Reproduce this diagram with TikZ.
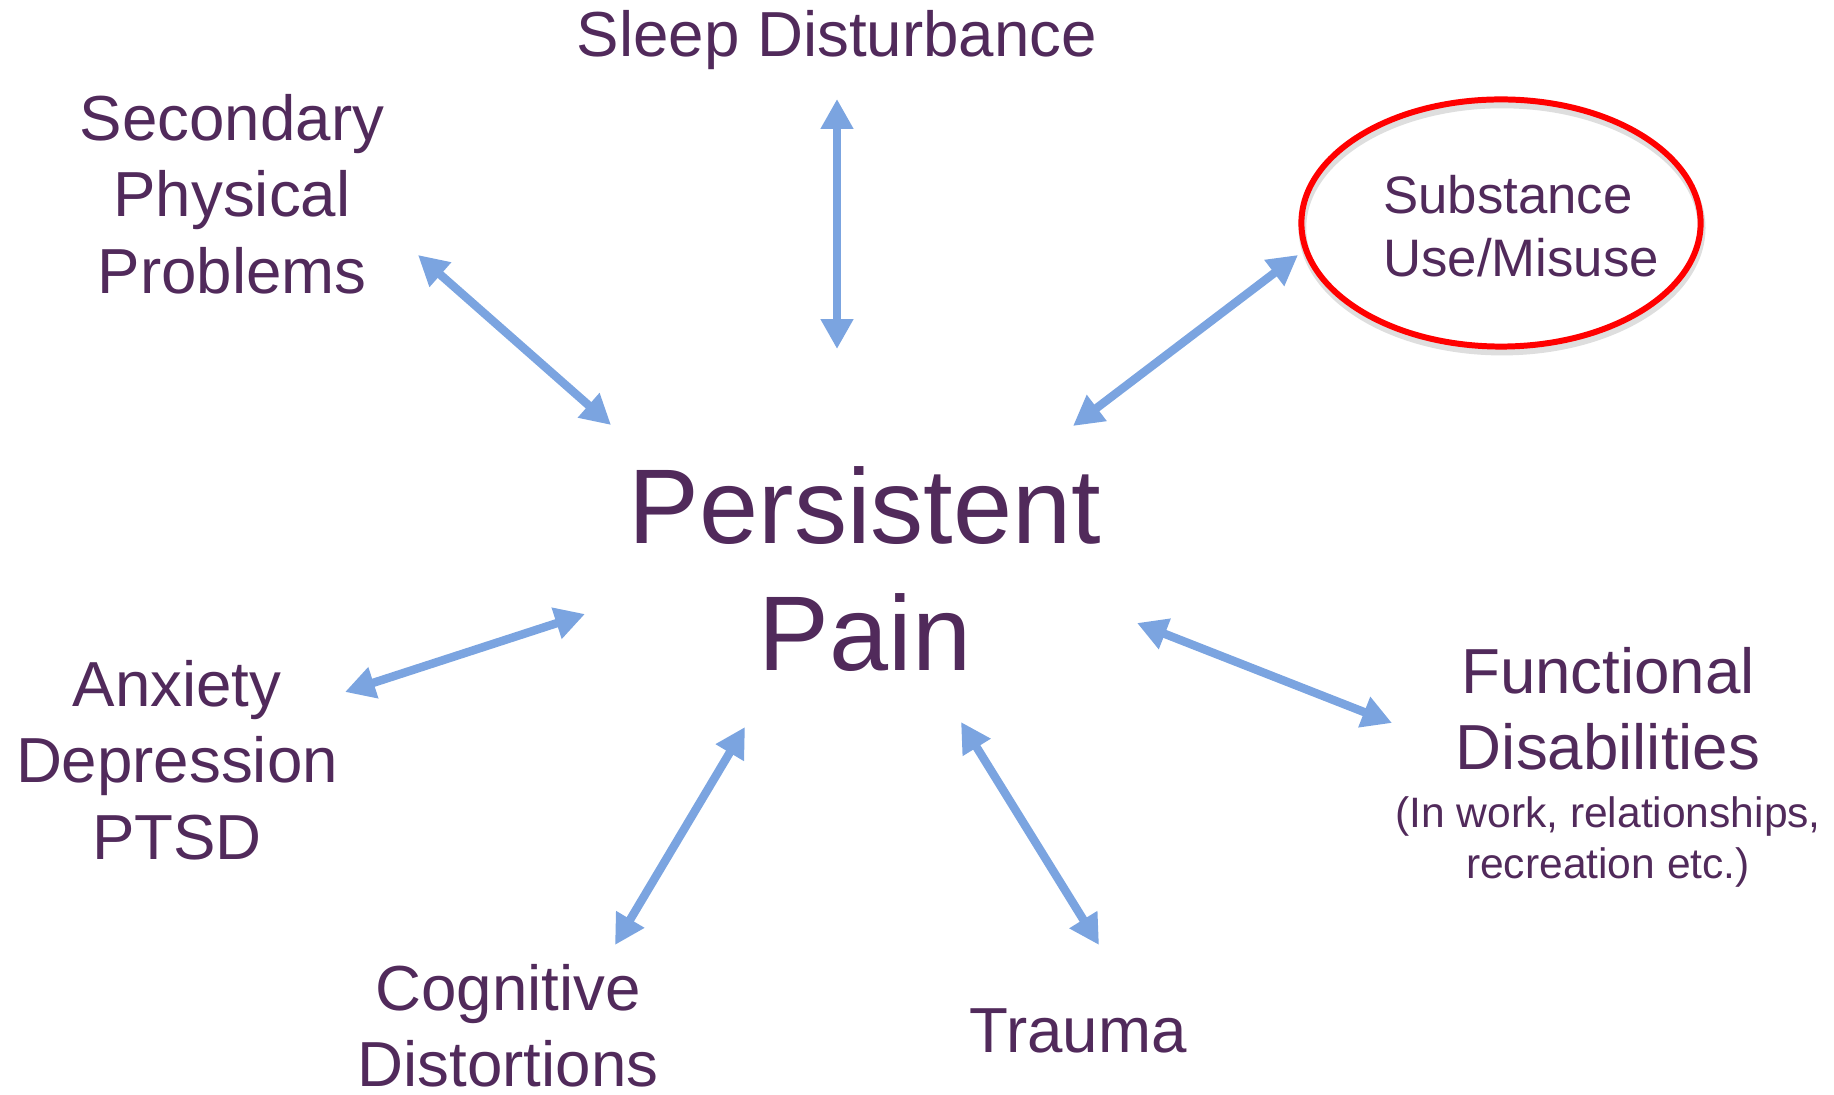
\documentclass[tikz,border=0pt]{standalone}
\usepackage{fontspec}
\setmainfont{Liberation Sans}
\usepackage{xcolor}
\definecolor{douleurPourpre}{HTML}{512A5B}
\definecolor{douleurBleu}{HTML}{7BA4E0}
\definecolor{douleurRouge}{HTML}{FF0000}
\definecolor{douleurOmbre}{HTML}{C8C8C8}
\usepackage{tikz}
\usetikzlibrary{arrows.meta, shapes.geometric}
\tikzset{
  %% ── Textes ───────────────────────────────────────────────────────────
  %% Tous les intitules sont en pourpre ; seule la taille change.
  theme/.style        = {text=douleurPourpre, align=center, inner sep=0pt,
                         font=\fontsize{18.1}{21.7}\selectfont},
  themeCentral/.style = {theme, font=\fontsize{30.2}{36.3}\selectfont},
  themePetit/.style   = {theme, align=left,
                         font=\fontsize{15}{17.9}\selectfont},
  precision/.style    = {theme, font=\fontsize{12.1}{14.65}\selectfont},
  %%
  %% ── Cadre ────────────────────────────────────────────────────────────
  %% L'ovale rouge porte une ombre legere, decalee vers le bas.
  ovaleRouge/.style   = {ellipse, draw=douleurRouge, line width=1.7pt,
                         minimum width=3.99cm, minimum height=2.47cm,
                         inner sep=0pt},
  ovaleOmbre/.style   = {ovaleRouge, draw=douleurOmbre, line width=2.2pt,
                         opacity=0.6},
  %%
  %% ── Fleches ──────────────────────────────────────────────────────────
  %% Toutes les relations vont dans les deux sens.
  fleche/.style       = {{Triangle[length=8.5pt, width=8.8pt]}-{Triangle[length=8.5pt, width=8.8pt]},
                         draw=douleurBleu, line width=2.4pt},
}

\begin{document}
\begin{tikzpicture}[x=0.01cm, y=-0.01cm]

%% Un pixel de la diapositive vaut 0,01 cm, origine en haut a gauche.
\useasboundingbox (0,0) rectangle (1834,1095);

%% Le centre.
\node[themeCentral] (douleur) at (865,569) {Persistent\\Pain};

%% Les sept themes autour.
\node[theme] (sommeil) at (837,40) {Sleep Disturbance};
\node[theme] (secondaire) at (232,194) {Secondary\\Physical\\Problems};
\node[ovaleOmbre] (ombre) at (1502,228) {};
\node[ovaleRouge] (ovale) at (1501,223) {};
\node[themePetit] (substance) at (1521,226) {Substance\\Use/Misuse};
\node[theme] (anxiete) at (177,760) {Anxiety\\Depression\\PTSD};
\node[theme] (fonction) at (1608,709) {Functional\\Disabilities};
\node[precision] (fonctionNote) at (1608,842) {(In work, relationships,\\recreation etc.)};
\node[theme] (cognition) at (508,1026) {Cognitive\\Distortions};
\node[theme] (trauma) at (1078,1031) {Trauma};

%% Les fleches, du theme vers le centre.
\foreach \nom/\xa/\ya/\xb/\yb in {sommeil/837/99/837/349, secondaire/418/255/611/425,
                                  substance/1298/255/1073/426, anxiete/345/692/585/614,
                                  cognition/615/945/745/727, trauma/1099/945/961/722,
                                  fonction/1392/723/1137/623} {
  \coordinate (\nom-ext) at (\xa,\ya);
  \coordinate (\nom-int) at (\xb,\yb);
  \draw[fleche] (\nom-ext) -- (\nom-int);
}

\end{tikzpicture}
\end{document}
